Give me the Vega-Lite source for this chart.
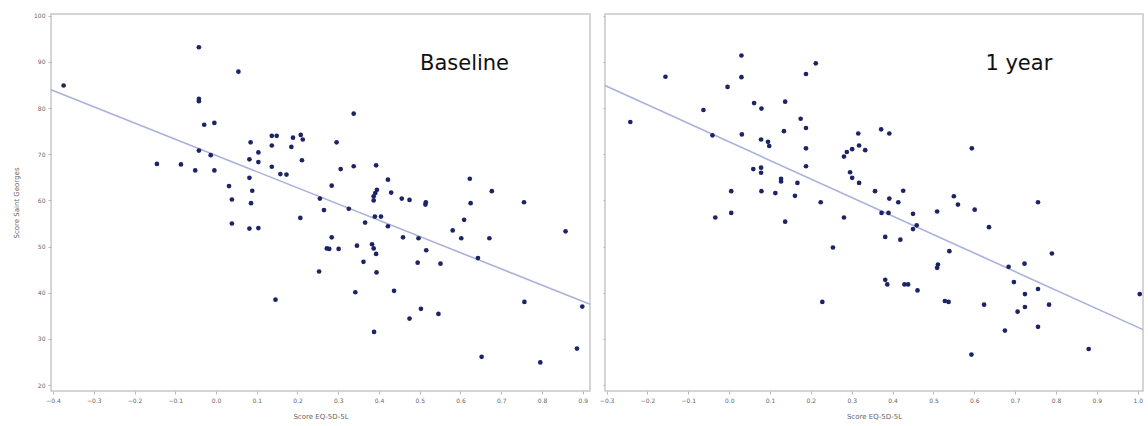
{
  "$schema": "https://vega.github.io/schema/vega-lite/v6.json",
  "autosize": {"type": "pad"},
  "padding": {"left": 11, "top": 12, "right": 0, "bottom": 0},
  "spacing": 15,
  "bounds": "flush",
  "config": {
    "view": {"stroke": "#c8c8c8", "strokeWidth": 1.5},
    "font": "DejaVu Sans",
    "axis": {
      "labelFontSize": 6, "labelColor": "#666", "labelFont": "DejaVu Sans",
      "titleFontSize": 7, "titleColor": "#666", "titleFontWeight": "normal", "titleFont": "DejaVu Sans",
      "tickColor": "#b8b8b8", "domain": false, "grid": false, "labelOverlap": false
    }
  },
  "datasets": {
    "baseline": [
      {"x":-0.374,"y":84.9},{"x":-0.042,"y":93.2},{"x":-0.042,"y":82.0},{"x":-0.042,"y":81.5},{"x":-0.029,"y":76.4},{"x":-0.004,"y":76.8},{"x":0.055,"y":87.9},{"x":0.338,"y":78.8},{"x":-0.042,"y":70.8},{"x":-0.013,"y":69.8},{"x":-0.145,"y":67.9},{"x":-0.086,"y":67.8},{"x":-0.051,"y":66.5},{"x":-0.004,"y":66.5},{"x":0.085,"y":72.6},{"x":0.104,"y":70.4},{"x":0.082,"y":68.9},{"x":0.104,"y":68.3},{"x":0.137,"y":74.0},{"x":0.149,"y":74.0},{"x":0.137,"y":71.9},{"x":0.137,"y":67.3},{"x":0.158,"y":65.7},{"x":0.173,"y":65.6},{"x":0.189,"y":73.6},{"x":0.208,"y":74.2},{"x":0.213,"y":73.2},{"x":0.185,"y":71.6},{"x":0.211,"y":68.7},{"x":0.296,"y":72.6},{"x":0.306,"y":66.8},{"x":0.338,"y":67.4},{"x":0.393,"y":67.6},{"x":0.422,"y":64.5},{"x":0.082,"y":64.9},{"x":0.032,"y":63.1},{"x":0.089,"y":62.1},{"x":0.039,"y":60.2},{"x":0.086,"y":59.4},{"x":0.284,"y":63.2},{"x":0.255,"y":60.4},{"x":0.395,"y":62.3},{"x":0.391,"y":61.6},{"x":0.387,"y":60.9},{"x":0.387,"y":60.0},{"x":0.430,"y":61.7},{"x":0.456,"y":60.4},{"x":0.475,"y":60.1},{"x":0.515,"y":59.6},{"x":0.514,"y":59.1},{"x":0.623,"y":64.7},{"x":0.625,"y":59.4},{"x":0.677,"y":62.0},{"x":0.756,"y":59.6},{"x":0.039,"y":55.0},{"x":0.082,"y":53.9},{"x":0.104,"y":54.0},{"x":0.207,"y":56.2},{"x":0.265,"y":57.9},{"x":0.326,"y":58.2},{"x":0.366,"y":55.2},{"x":0.390,"y":56.5},{"x":0.405,"y":56.5},{"x":0.422,"y":54.4},{"x":0.284,"y":52.0},{"x":0.272,"y":49.6},{"x":0.278,"y":49.5},{"x":0.301,"y":49.5},{"x":0.346,"y":50.2},{"x":0.383,"y":50.5},{"x":0.387,"y":49.6},{"x":0.393,"y":48.4},{"x":0.362,"y":46.7},{"x":0.394,"y":44.4},{"x":0.253,"y":44.6},{"x":0.459,"y":52.0},{"x":0.497,"y":51.8},{"x":0.516,"y":49.2},{"x":0.495,"y":46.5},{"x":0.551,"y":46.3},{"x":0.581,"y":53.5},{"x":0.609,"y":55.8},{"x":0.602,"y":51.8},{"x":0.643,"y":47.5},{"x":0.671,"y":51.8},{"x":0.858,"y":53.3},{"x":0.146,"y":38.5},{"x":0.342,"y":40.1},{"x":0.437,"y":40.4},{"x":0.503,"y":36.5},{"x":0.475,"y":34.4},{"x":0.546,"y":35.4},{"x":0.388,"y":31.5},{"x":0.757,"y":38.0},{"x":0.899,"y":37.0},{"x":0.652,"y":26.1},{"x":0.796,"y":24.9},{"x":0.886,"y":27.9}
    ],
    "year1": [
      {"x":-0.242,"y":77.0},{"x":-0.156,"y":86.8},{"x":-0.063,"y":79.6},{"x":-0.041,"y":74.1},{"x":-0.004,"y":84.6},{"x":0.030,"y":91.4},{"x":0.030,"y":86.7},{"x":0.031,"y":74.3},{"x":0.061,"y":81.1},{"x":0.079,"y":79.9},{"x":0.137,"y":81.4},{"x":0.188,"y":87.4},{"x":0.212,"y":89.7},{"x":0.175,"y":77.7},{"x":0.188,"y":75.7},{"x":0.134,"y":75.0},{"x":0.078,"y":73.2},{"x":0.095,"y":72.7},{"x":0.098,"y":71.8},{"x":0.188,"y":71.3},{"x":0.188,"y":67.4},{"x":0.281,"y":69.5},{"x":0.288,"y":70.5},{"x":0.301,"y":71.1},{"x":0.318,"y":71.9},{"x":0.333,"y":70.9},{"x":0.316,"y":74.5},{"x":0.372,"y":75.4},{"x":0.392,"y":74.5},{"x":0.296,"y":66.1},{"x":0.301,"y":64.9},{"x":0.318,"y":63.8},{"x":0.059,"y":66.8},{"x":0.078,"y":67.1},{"x":0.078,"y":66.0},{"x":0.127,"y":64.7},{"x":0.127,"y":64.1},{"x":0.167,"y":63.8},{"x":0.005,"y":62.0},{"x":0.079,"y":62.0},{"x":0.113,"y":61.6},{"x":0.161,"y":61.0},{"x":0.224,"y":59.6},{"x":0.357,"y":62.0},{"x":0.392,"y":60.4},{"x":0.414,"y":59.6},{"x":0.426,"y":62.1},{"x":0.550,"y":60.9},{"x":0.560,"y":59.1},{"x":0.594,"y":71.3},{"x":0.756,"y":59.6},{"x":0.601,"y":58.0},{"x":0.509,"y":57.6},{"x":-0.034,"y":56.3},{"x":0.005,"y":57.3},{"x":0.137,"y":55.4},{"x":0.281,"y":56.3},{"x":0.373,"y":57.3},{"x":0.390,"y":57.3},{"x":0.450,"y":57.1},{"x":0.459,"y":54.6},{"x":0.450,"y":53.8},{"x":0.636,"y":54.2},{"x":0.382,"y":52.1},{"x":0.419,"y":51.5},{"x":0.254,"y":49.8},{"x":0.539,"y":49.0},{"x":0.790,"y":48.5},{"x":0.511,"y":46.1},{"x":0.509,"y":45.4},{"x":0.684,"y":45.6},{"x":0.723,"y":46.3},{"x":0.382,"y":42.8},{"x":0.387,"y":41.8},{"x":0.429,"y":41.8},{"x":0.438,"y":41.8},{"x":0.461,"y":40.5},{"x":0.697,"y":42.3},{"x":0.724,"y":39.7},{"x":0.756,"y":40.8},{"x":0.783,"y":37.4},{"x":0.724,"y":36.9},{"x":0.706,"y":35.9},{"x":0.228,"y":38.0},{"x":0.528,"y":38.2},{"x":0.537,"y":38.0},{"x":0.624,"y":37.4},{"x":0.675,"y":31.8},{"x":0.756,"y":32.6},{"x":0.593,"y":26.6},{"x":0.880,"y":27.8},{"x":1.005,"y":39.7}
    ],
    "fit_baseline": [{"x": -0.405, "y": 84.0}, {"x": 0.918, "y": 37.5}],
    "fit_year1": [{"x": -0.304, "y": 84.9}, {"x": 1.013, "y": 32.0}],
    "lab_baseline": [{"x": 0.61, "y": 89.6, "t": "Baseline"}],
    "lab_year1": [{"x": 0.709, "y": 89.5, "t": "1 year"}]
  },
  "hconcat": [
    {
      "width": 539, "height": 377,
      "layer": [
        {
          "data": {"name": "fit_baseline"},
          "mark": {"type": "line", "color": "#a9b1dc", "strokeWidth": 1.6},
          "encoding": {
            "x": {"field": "x", "type": "quantitative", "scale": {"domain": [-0.405, 0.918], "nice": false, "zero": false},
                  "axis": {"title": "Score EQ-5D-5L", "values": [-0.4,-0.3,-0.2,-0.1,0,0.1,0.2,0.3,0.4,0.5,0.6,0.7,0.8,0.9], "format": ".1f",
                           "tickSize": 3, "labelPadding": 3, "titlePadding": 9}},
            "y": {"field": "y", "type": "quantitative", "scale": {"domain": [18.7, 100.4], "nice": false, "zero": false},
                  "axis": {"title": "Score Saint Georges", "values": [20,30,40,50,60,70,80,90,100], "tickSize": 3, "labelPadding": 3, "titlePadding": 14}}
          }
        },
        {
          "data": {"name": "baseline"},
          "mark": {"type": "circle", "size": 22, "color": "#1c2466", "opacity": 1},
          "encoding": {"x": {"field": "x", "type": "quantitative"}, "y": {"field": "y", "type": "quantitative"}}
        },
        {
          "data": {"name": "lab_baseline"},
          "mark": {"type": "text", "fontSize": 21, "font": "DejaVu Sans", "color": "#111"},
          "encoding": {"x": {"field": "x", "type": "quantitative"}, "y": {"field": "y", "type": "quantitative"}, "text": {"field": "t"}}
        }
      ]
    },
    {
      "width": 538, "height": 377,
      "layer": [
        {
          "data": {"name": "fit_year1"},
          "mark": {"type": "line", "color": "#a9b1dc", "strokeWidth": 1.6},
          "encoding": {
            "x": {"field": "x", "type": "quantitative", "scale": {"domain": [-0.304, 1.013], "nice": false, "zero": false},
                  "axis": {"title": "Score EQ-5D-5L", "values": [-0.3,-0.2,-0.1,0,0.1,0.2,0.3,0.4,0.5,0.6,0.7,0.8,0.9,1.0], "format": ".1f",
                           "tickSize": 3, "labelPadding": 3, "titlePadding": 9}},
            "y": {"field": "y", "type": "quantitative", "scale": {"domain": [18.7, 100.4], "nice": false, "zero": false},
                  "axis": {"title": null, "labels": false, "values": [20,25,30,35,40,45,50,55,60,65,70,75,80,85,90,95,100], "tickSize": 2}}
          }
        },
        {
          "data": {"name": "year1"},
          "mark": {"type": "circle", "size": 22, "color": "#1c2466", "opacity": 1},
          "encoding": {"x": {"field": "x", "type": "quantitative"}, "y": {"field": "y", "type": "quantitative"}}
        },
        {
          "data": {"name": "lab_year1"},
          "mark": {"type": "text", "fontSize": 21, "font": "DejaVu Sans", "color": "#111"},
          "encoding": {"x": {"field": "x", "type": "quantitative"}, "y": {"field": "y", "type": "quantitative"}, "text": {"field": "t"}}
        }
      ]
    }
  ]
}
